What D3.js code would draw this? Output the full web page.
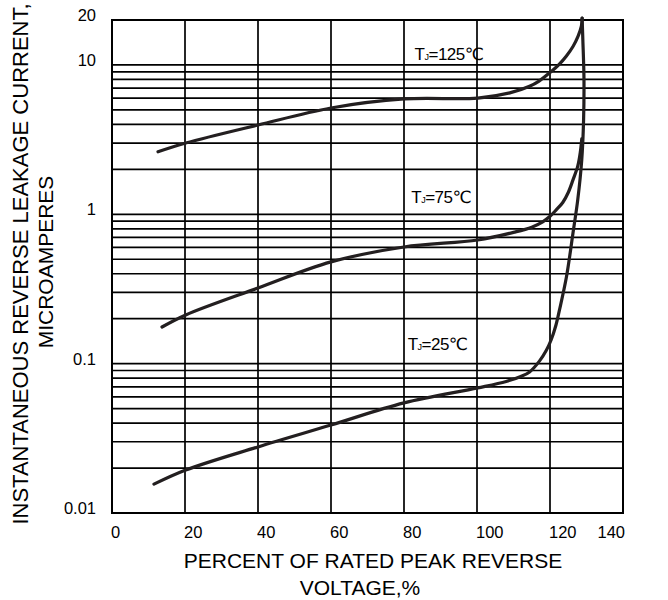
<!DOCTYPE html>
<html>
<head>
<meta charset="utf-8">
<script src="https://cdn.jsdelivr.net/npm/d3@7"></script>
<style>
	body { margin: 0; background: #fff; }
	text { font-family: "Liberation Sans", Arial, "DejaVu Sans", "Noto Sans CJK SC", sans-serif; fill: #000; }
</style>
</head>
<body>
<div id="chart"></div>
<script>
// axis ticks
var xTicks = [0, 20, 40, 60, 80, 100, 120, 140];
var yTickLabels = [0.01, 0.1, 1, 10, 20];
var yGrid = [0.02, 0.03, 0.04, 0.05, 0.06, 0.07, 0.08, 0.09, 0.1,
	0.2, 0.3, 0.4, 0.5, 0.6, 0.7, 0.8, 0.9, 1,
	2, 3, 4, 5, 6, 7, 8, 9, 10];

// curves: percent of rated voltage, current in uA
var temps = ['125', '75', '25'];
var pct125 = [12.6, 20.2, 40, 60, 80, 100.2, 109, 114.4, 117, 120, 122.5, 124.5, 126.3, 127.7, 128.6, 128.8];
var cur125 = [2.62, 3.0, 3.96, 5.15, 5.92, 6.0, 6.5, 7.2, 7.8, 8.9, 10.1, 11.5, 13.3, 15.6, 18.2, 20.6];
var pct75 = [13.7, 20.2, 40, 60, 80, 100.2, 110.3, 115, 118, 120, 121.7, 123.5, 125, 126.3, 127.6, 128.3, 128.7];
var cur75 = [0.176, 0.212, 0.321, 0.48, 0.604, 0.673, 0.76, 0.82, 0.89, 0.97, 1.07, 1.2, 1.4, 1.7, 2.1, 2.6, 3.2];
var pct25 = [11.5, 20.2, 40, 60, 80, 100.2, 108, 112, 114.4, 117.1, 119, 120.3, 121.6, 122.6, 124.5, 126.3, 127.6, 128.7, 129.2, 129.3, 129.0, 128.8];
var cur25 = [0.0156, 0.0194, 0.0277, 0.0388, 0.0546, 0.0688, 0.076, 0.082, 0.088, 0.104, 0.123, 0.144, 0.18, 0.229, 0.38, 0.75, 1.25, 2.31, 4.28, 8.3, 14.7, 20.6];

// label anchors (data coords)
var labelPct = [82.9, 82.0, 81.0];
var labelCur = [10.8, 1.19, 0.1235];

var W = 668, H = 600;
var x = d3.scaleLinear().domain([0, 140]).range([112, 623]);
var y = d3.scaleLog().domain([0.01, 20]).range([513, 20]);

var svg = d3.select('#chart').append('svg')
	.attr('width', W)
	.attr('height', H);

// grid
svg.append('g').selectAll('line')
	.data(yGrid)
	.enter().append('line')
	.attr('x1', x(0)).attr('x2', x(140))
	.attr('y1', function(d){ return y(d); })
	.attr('y2', function(d){ return y(d); })
	.attr('stroke', '#000')
	.attr('stroke-width', 1.7);

svg.append('g').selectAll('line')
	.data(xTicks.slice(1, -1))
	.enter().append('line')
	.attr('x1', function(d){ return x(d); })
	.attr('x2', function(d){ return x(d); })
	.attr('y1', y(20)).attr('y2', y(0.01))
	.attr('stroke', '#000')
	.attr('stroke-width', 1.7);

svg.append('rect')//frame
	.attr('x', x(0))
	.attr('y', y(20))
	.attr('width', x(140) - x(0))
	.attr('height', y(0.01) - y(20))
	.attr('fill', 'none')
	.attr('stroke', '#000')
	.attr('stroke-width', 2);

// tick labels
svg.append('g').selectAll('text')
	.data(xTicks)
	.enter().append('text')
	.attr('x', function(d, i){ return i == xTicks.length - 1 ? x(d) + 2 : x(d) - 1; })
	.attr('y', 538)
	.attr('text-anchor', function(d, i){ return i == xTicks.length - 1 ? 'end' : 'start'; })
	.attr('font-size', 16.5)
	.text(function(d){ return d; });

svg.append('g').selectAll('text')
	.data(yTickLabels)
	.enter().append('text')
	.attr('x', 96)
	.attr('y', function(d){ return y(d) + 1; })
	.attr('text-anchor', 'end')
	.attr('font-size', 16.5)
	.text(function(d){ return d; });

// curves
var line = d3.line()
	.x(function(d){ return x(d[0]); })
	.y(function(d){ return y(d[1]); })
	.curve(d3.curveCatmullRom.alpha(0.5));

var series = [d3.zip(pct125, cur125), d3.zip(pct75, cur75), d3.zip(pct25, cur25)];

svg.append('g').selectAll('path')
	.data(series)
	.enter().append('path')
	.attr('d', line)
	.attr('fill', 'none')
	.attr('stroke', '#231f20')
	.attr('stroke-width', 3.2)
	.attr('stroke-linecap', 'round');

// TJ labels
var lab = svg.append('g').selectAll('text')
	.data(temps)
	.enter().append('text')
	.attr('x', function(d, i){ return x(labelPct[i]); })
	.attr('y', function(d, i){ return y(labelCur[i]); })
	.attr('font-size', 17)
	.attr('letter-spacing', -0.5);
lab.append('tspan').text('T');
lab.append('tspan').attr('font-size', 9).text('J');
lab.append('tspan').text(function(d){ return '=' + d + '\u2103'; });

// axis titles
svg.append('text')
	.attr('x', 373).attr('y', 568)
	.attr('text-anchor', 'middle')
	.attr('font-size', 21)
	.text('PERCENT OF RATED PEAK REVERSE');
svg.append('text')
	.attr('x', 360).attr('y', 595)
	.attr('text-anchor', 'middle')
	.attr('font-size', 21)
	.text('VOLTAGE,%');

svg.append('text')
	.attr('transform', 'translate(28, 264) rotate(-90)')
	.attr('text-anchor', 'middle')
	.attr('font-size', 22)
	.text('INSTANTANEOUS REVERSE LEAKAGE CURRENT,');
svg.append('text')
	.attr('transform', 'translate(53, 262) rotate(-90)')
	.attr('text-anchor', 'middle')
	.attr('font-size', 21)
	.text('MICROAMPERES');
</script>
</body>
</html>
